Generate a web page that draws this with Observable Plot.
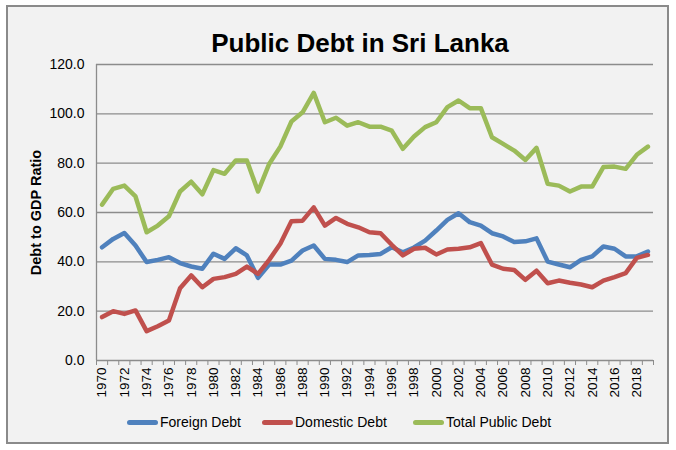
<!DOCTYPE html>
<html>
<head>
<meta charset="utf-8">
<script src="https://cdn.jsdelivr.net/npm/d3@7"></script>
<script src="https://cdn.jsdelivr.net/npm/@observablehq/plot@0.6"></script>
<style>
  html, body { margin: 0; padding: 0; background: #ffffff; }
  #wrap { position: relative; width: 676px; height: 450px; font-family: "Liberation Sans", Arial, sans-serif; }
  #frame { position: absolute; left: 6px; top: 5px; width: 663px; height: 439px; border: 2px solid #8a8a8a; background: #f2f2f2; box-sizing: border-box; }
  #title { position: absolute; left: 0; top: 28px; width: 720px; text-align: center; font-size: 26px; font-weight: bold; color: #000; line-height: 30px; }
  #chart { position: absolute; left: 0; top: 0; }
  #legend { position: absolute; left: 0; top: 412px; width: 676px; font-size: 14px; color: #000; }
  .item { position: absolute; top: 0; height: 20px; line-height: 20px; white-space: nowrap; }
  .sw { display: inline-block; width: 31px; height: 5px; border-radius: 3px; vertical-align: middle; margin-right: 2px; position: relative; top: -1px; }
</style>
</head>
<body>
<div id="wrap">
  <div id="frame"></div>
  <div id="title">Public Debt in Sri Lanka</div>
  <div id="chart"></div>
  <div id="legend"></div>
</div>
<script>
const years = d3.range(1970, 2020);

const foreignDebt = [
  45.9, 49.3, 51.7, 46.6, 39.9, 40.8, 41.9, 39.5, 38.1, 37.2,
  43.3, 41.2, 45.5, 42.6, 33.5, 38.9, 38.9, 40.5, 44.6, 46.6,
  41.2, 40.8, 39.9, 42.6, 42.8, 43.2, 45.9, 43.9, 45.8, 48.6,
  52.7, 57.0, 59.7, 56.1, 54.7, 51.6, 50.3, 48.0, 48.3, 49.5,
  40.1, 38.9, 37.8, 40.8, 42.2, 46.2, 45.3, 42.2, 42.2, 44.2
];
const domesticDebt = [
  17.6, 20.0, 18.9, 20.3, 11.9, 13.9, 16.2, 29.3, 34.5, 29.7,
  33.1, 33.8, 35.1, 38.1, 35.1, 40.8, 47.3, 56.5, 56.7, 62.1,
  54.7, 57.8, 55.4, 54.0, 52.0, 51.6, 46.9, 42.6, 45.3, 45.7,
  43.0, 45.0, 45.3, 45.9, 47.6, 38.9, 37.2, 36.7, 32.7, 36.4,
  31.3, 32.4, 31.5, 30.8, 29.7, 32.4, 33.8, 35.4, 41.6, 42.8
];
const totalDebt = [
  63.2, 69.6, 70.9, 66.5, 52.0, 54.7, 58.5, 68.5, 72.5, 67.4,
  77.2, 75.7, 81.1, 81.1, 68.5, 79.7, 86.7, 96.9, 100.6, 108.5,
  96.6, 98.4, 95.2, 96.6, 94.8, 94.8, 93.2, 85.8, 90.8, 94.6,
  96.6, 102.7, 105.4, 102.3, 102.3, 90.5, 87.8, 85.1, 81.3, 86.2,
  71.6, 70.9, 68.5, 70.5, 70.5, 78.4, 78.6, 77.7, 83.4, 86.7
];

const seriesNames = ["Foreign Debt", "Domestic Debt", "Total Public Debt"];
const seriesColors = ["#4F81BD", "#C0504D", "#9BBB59"];
const yTicks = [0, 20, 40, 60, 80, 100, 120];
const xLabelYears = d3.range(1970, 2020, 2);
const xBoundaries = d3.range(1969.5, 2020, 1);

const seriesValues = [foreignDebt, domesticDebt, totalDebt];
const rows = [];
seriesNames.forEach((name, s) => {
  years.forEach((yr, i) => rows.push({series: name, year: yr, value: seriesValues[s][i]}));
});

const gridColor = "#8c8c8c";

const chart = Plot.plot({
  width: 676,
  height: 450,
  marginLeft: 96,
  marginRight: 23,
  marginTop: 64,
  marginBottom: 90,
  style: {background: "transparent", fontFamily: "'Liberation Sans', Arial, sans-serif", color: "#000"},
  x: {type: "linear", domain: [1969.5, 2019.5]},
  y: {domain: [0, 120]},
  color: {domain: seriesNames, range: seriesColors},
  marks: [
    Plot.ruleY(yTicks, {stroke: gridColor, strokeWidth: 1.3}),
    Plot.ruleX([1969.5], {stroke: gridColor, strokeWidth: 1.3}),
    Plot.axisY({ticks: yTicks, tickSize: 0, tickPadding: 12, tickFormat: d => d.toFixed(1), fontSize: 14, label: null}),
    Plot.axisX({ticks: xBoundaries, tickSize: 5, tickFormat: () => "", stroke: gridColor, label: null}),
    Plot.axisX({ticks: xLabelYears, tickSize: 0, tickPadding: 7, tickRotate: -90, tickFormat: d => String(d), fontSize: 13.5, label: null}),
    Plot.text(["Debt to GDP Ratio"], {frameAnchor: "left", dx: -60, rotate: -90, textAnchor: "middle", fontWeight: "bold", fontSize: 14.5, fill: "#000"}),
    Plot.line(rows, {x: "year", y: "value", z: "series", stroke: "series", strokeWidth: 4.5, strokeLinejoin: "round", strokeLinecap: "round"})
  ]
});
document.getElementById("chart").appendChild(chart);

const legend = document.getElementById("legend");
const legendX = [127, 262, 413];
seriesNames.forEach((name, i) => {
  const item = document.createElement("div");
  item.className = "item";
  item.style.left = legendX[i] + "px";
  const sw = document.createElement("span");
  sw.className = "sw";
  sw.style.background = seriesColors[i];
  item.appendChild(sw);
  item.appendChild(document.createTextNode(name));
  legend.appendChild(item);
});
</script>
</body>
</html>
